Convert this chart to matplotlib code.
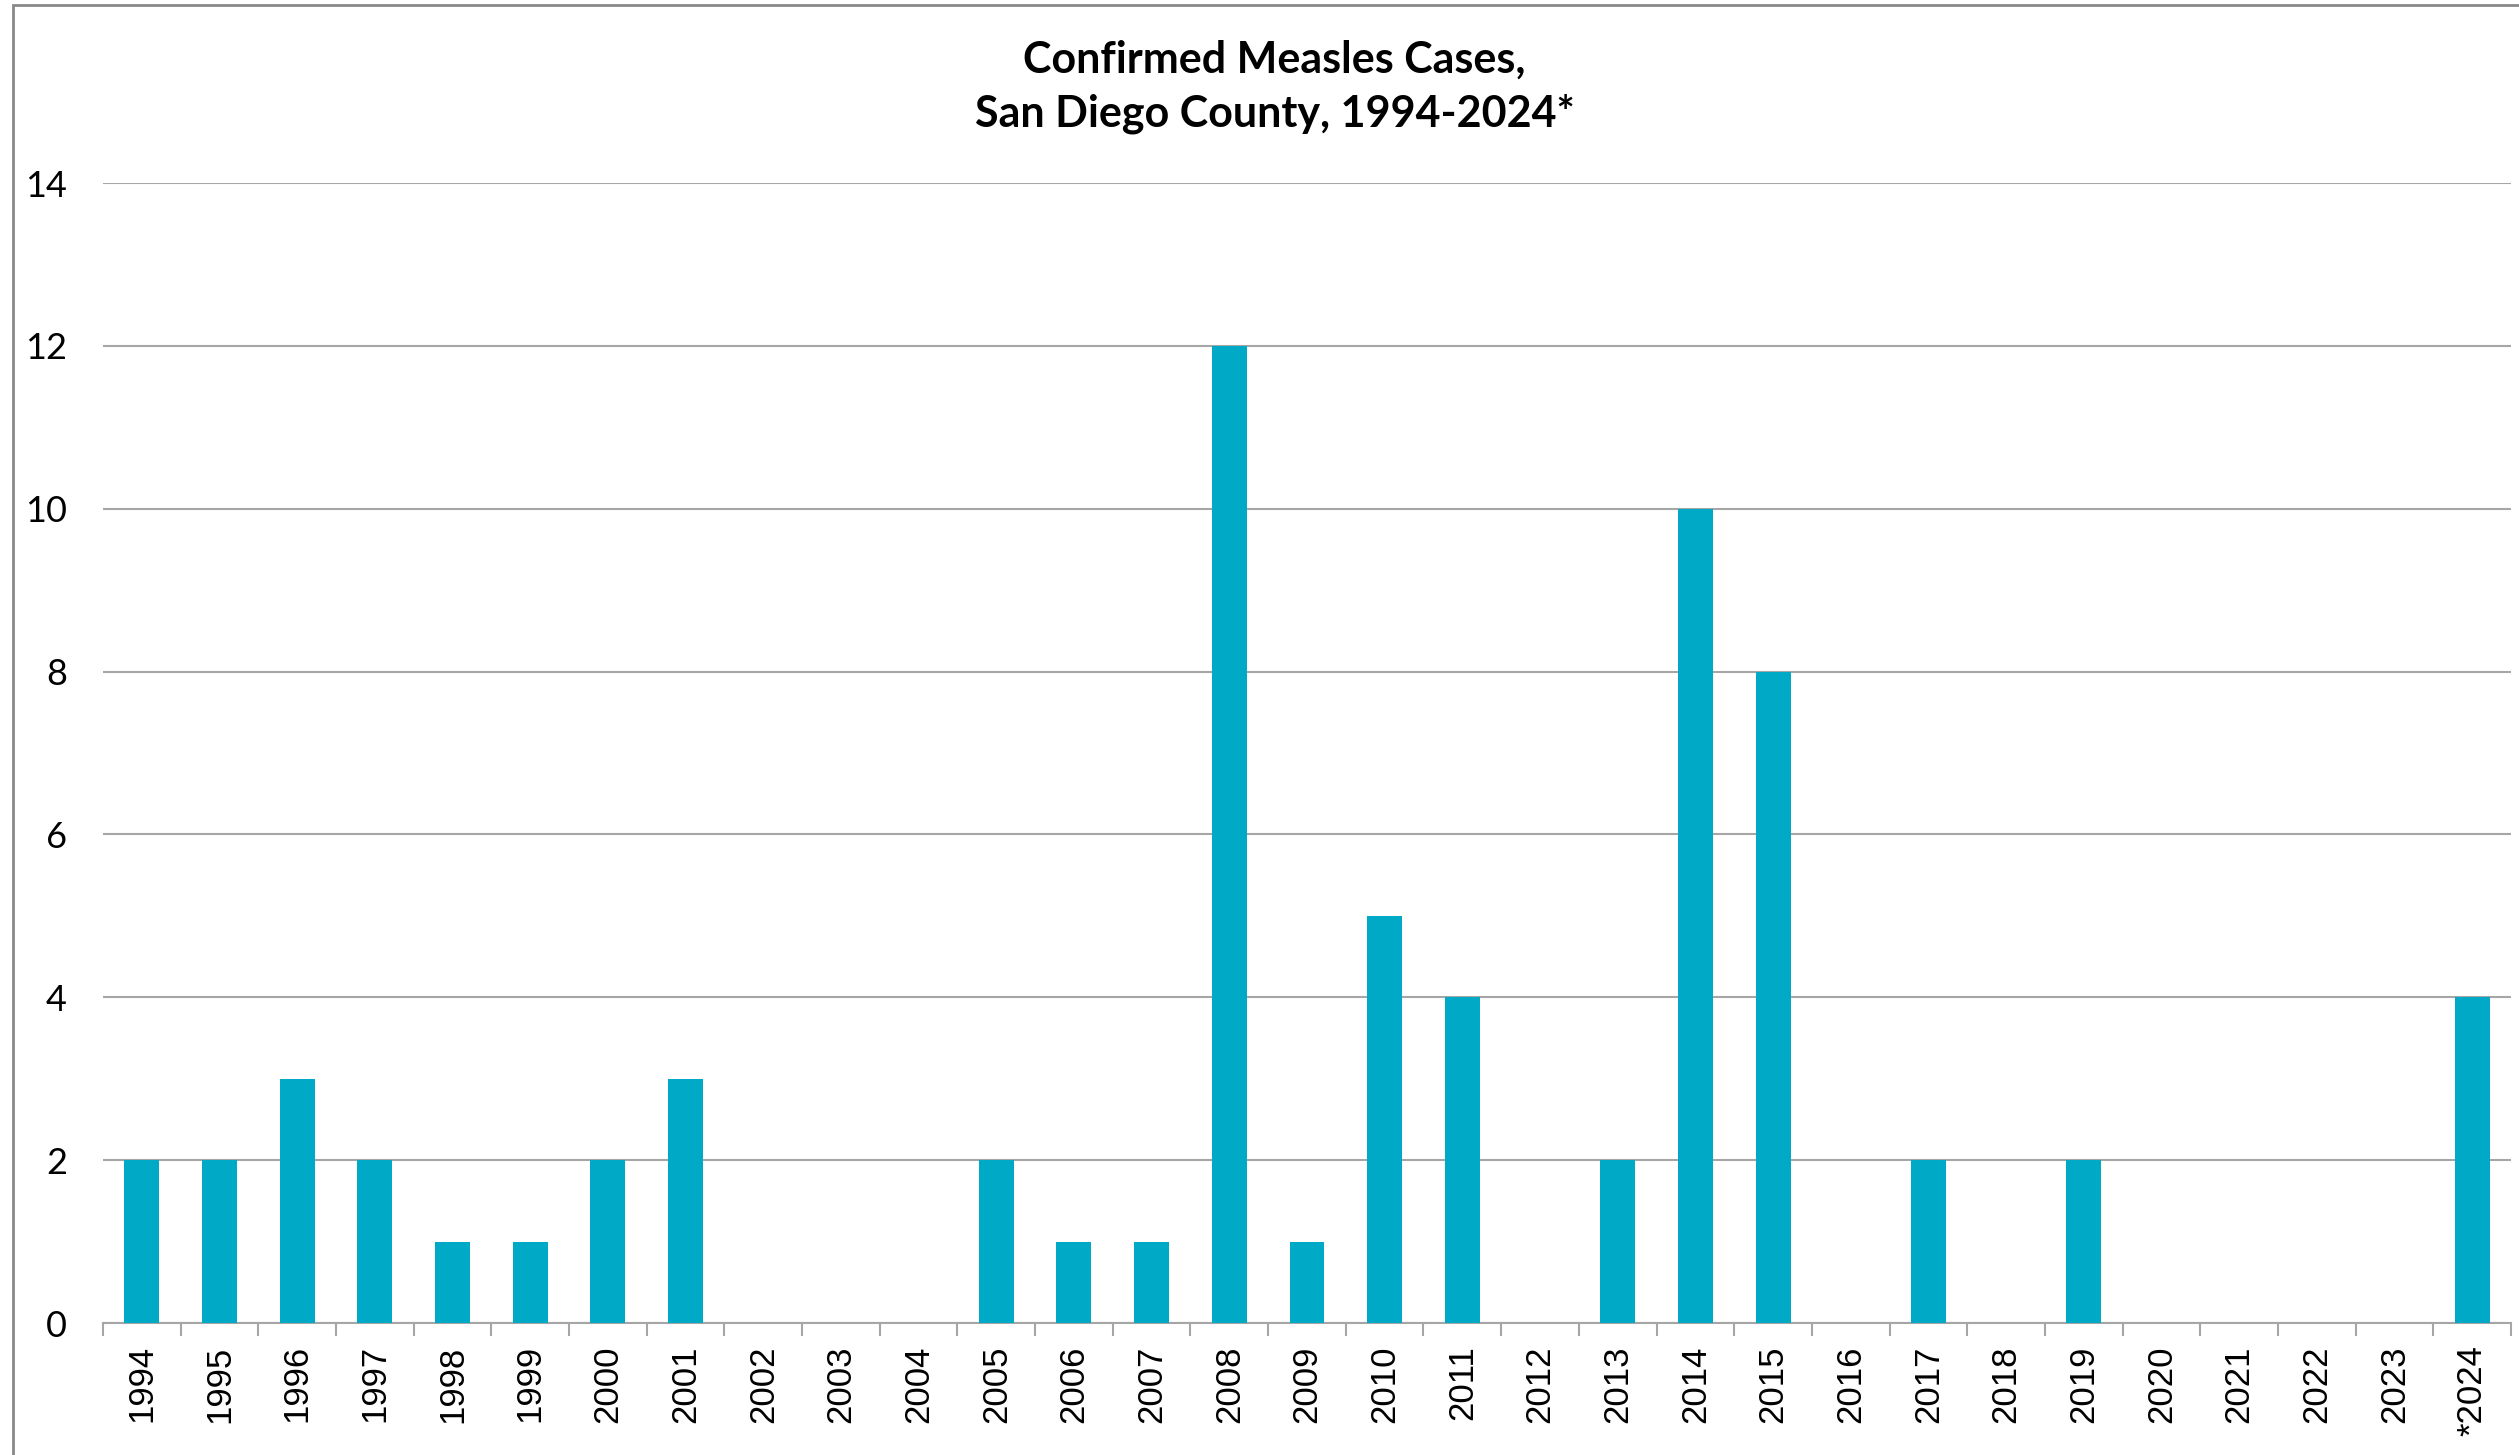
import matplotlib.pyplot as plt
from matplotlib.patches import Rectangle
import numpy as np

# ---------- datos ----------
years = ["1994", "1995", "1996", "1997", "1998", "1999", "2000", "2001",
         "2002", "2003", "2004", "2005", "2006", "2007", "2008", "2009",
         "2010", "2011", "2012", "2013", "2014", "2015", "2016", "2017",
         "2018", "2019", "2020", "2021", "2022", "2023", "*2024"]
cases = [2, 2, 3, 2, 1, 1, 2, 3, 0, 0, 0, 2, 1, 1, 12, 1,
         5, 4, 0, 2, 10, 8, 0, 2, 0, 2, 0, 0, 0, 0, 4]
y_ticks = [0, 2, 4, 6, 8, 10, 12, 14]

title = "Confirmed Measles Cases,\nSan Diego County, 1994-2024*"

bar_color = "#00A9C6"
grid_color = "#A6A6A6"

# ---------- figura ----------
fig = plt.figure(figsize=(25.19, 14.55), dpi=100)
ax = fig.add_axes([0.0409, 0.0907, 0.9559, 0.7835])

x = np.arange(len(years))
ax.bar(x, cases, width=0.45, color=bar_color, zorder=3)

ax.set_xlim(-0.5, len(years) - 0.5)
ax.set_ylim(0, 14)
ax.set_yticks(y_ticks)
ax.set_yticklabels([str(v) for v in y_ticks], fontsize=26, family="Lato")
ax.tick_params(axis="y", length=0, pad=26)

# etiquetas centradas, marcas en los bordes de categoria
ax.set_xticks(x)
ax.set_xticklabels(years, rotation=90, fontsize=25, family="Liberation Sans")
ax.tick_params(axis="x", which="major", length=0, pad=16)
ax.set_xticks(np.arange(-0.5, len(years)), minor=True)
ax.tick_params(axis="x", which="minor", length=9, width=1.5, color=grid_color)

ax.yaxis.grid(True, color=grid_color, linewidth=1.5, zorder=0)
for side in ["top", "right", "left"]:
    ax.spines[side].set_visible(False)
ax.spines["bottom"].set_color(grid_color)
ax.spines["bottom"].set_linewidth(1.5)

fig.text(0.506, 1 - 87 / 1455, title, ha="center", va="center", fontsize=31,
         fontweight="bold", family="Lato", linespacing=1.4)

# marco del area del grafico
fig.patches.append(Rectangle((13 / 2519, -0.1), 1.2, 1.1 - 5 / 1455,
                             transform=fig.transFigure, fill=False,
                             edgecolor="#898989", linewidth=2))

fig.savefig("out.png", dpi=100, facecolor="white")
